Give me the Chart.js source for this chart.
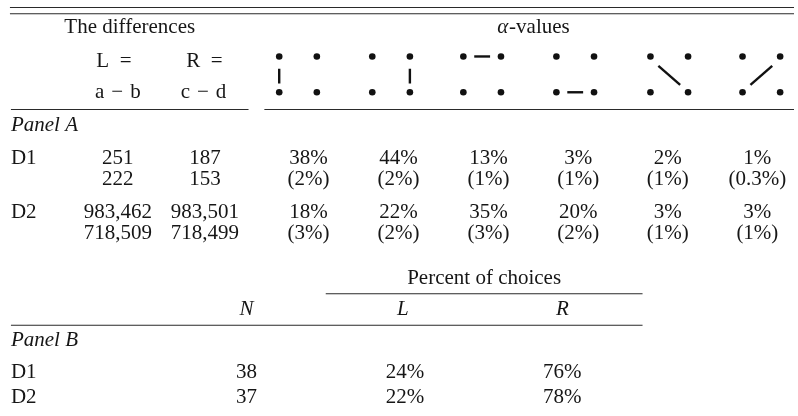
<!DOCTYPE html>
<html><head><meta charset="utf-8">
<script src="https://cdn.jsdelivr.net/npm/chart.js@4/dist/chart.umd.min.js"></script>
<style>html,body{margin:0;padding:0;background:#fff;}canvas{display:block}</style>
</head><body>
<canvas id="c" width="798" height="416"></canvas>
<script>
// ---------------- data ----------------
const rowLabels = ['D1', 'D2'];
const diffL = [['251', '222'], ['983,462', '718,509']];
const diffR = [['187', '153'], ['983,501', '718,499']];
// which pair of the four dots is linked in each alpha-value column
const alphaPatterns = ['left', 'right', 'top', 'bottom', 'diagDown', 'diagUp'];
const alphaMean = [[38, 44, 13, 3, 2, 1], [18, 22, 35, 20, 3, 3]];
const alphaSE = [[2, 2, 1, 1, 1, 0.3], [3, 2, 3, 2, 1, 1]];
const panelBN = [38, 37];
const choiceL = [24, 22];
const choiceR = [76, 78];

// ---------------- layout (scale units = px) ----------------
const W = 798, H = 416;
const FONT = '"Liberation Serif", "Times New Roman", serif';
const FS = 21;
const INK = '#161616';
const RULE = '#2a2a2a';
const X = {
  label: 7, L: 115, R: 203,
  alpha: [307.5, 398.5, 489.5, 580, 670.5, 761],
  glyph: [297, 391, 483, 577, 672, 765],
  BN: 245, BL: 405, BR: 564
};
const Y = {
  rule1: 3.5, rule2: 10, title: 30, hdr1: 64, hdr2: 96, ruleA: 107.5,
  panelA: 129, rows: [[163, 185], [218, 240]],
  pct: 285, rulePct: 295.5, hdrB: 317, ruleB: 327.5, panelB: 349, rowsB: [381, 407]
};
const GLYPH = { hw: 19, top: 53.5, bot: 90 };

// ---------------- datasets ----------------
const datasets = [];
function seg(x1, y1, x2, y2, w, color) {
  datasets.push({
    type: 'line', data: [{x: x1, y: y1}, {x: x2, y: y2}],
    borderColor: color, borderWidth: w, pointRadius: 0, showLine: true,
    fill: false, clip: false, tension: 0, borderCapStyle: 'butt'
  });
}
// rules
seg(6, Y.rule1, W, Y.rule1, 1.1, RULE);
seg(6, Y.rule2, W, Y.rule2, 1.1, RULE);
seg(7, Y.ruleA, 247, Y.ruleA, 1.1, RULE);
seg(263, Y.ruleA, W, Y.ruleA, 1.1, RULE);
seg(325, Y.rulePct, 645, Y.rulePct, 1.1, RULE);
seg(7, Y.ruleB, 645, Y.ruleB, 1.1, RULE);

// glyph dots and links
const dots = [];
alphaPatterns.forEach((p, i) => {
  const cx = X.glyph[i], hw = GLYPH.hw, t = GLYPH.top, b = GLYPH.bot;
  dots.push({x: cx - hw, y: t}, {x: cx + hw, y: t}, {x: cx - hw, y: b}, {x: cx + hw, y: b});
  const lw = 2.4, c = '#111';
  if (p === 'left') seg(cx - hw, t + 12.5, cx - hw, b - 9, lw, c);
  if (p === 'right') seg(cx + hw, t + 12.5, cx + hw, b - 9, lw, c);
  if (p === 'top') seg(cx - 8, t, cx + 8, t, lw, c);
  if (p === 'bottom') seg(cx - 8, b, cx + 8, b, lw, c);
  if (p === 'diagDown') seg(cx - 11, t + 9.5, cx + 11, b - 7.5, lw, c);
  if (p === 'diagUp') seg(cx - 11, b - 7.5, cx + 11, t + 9.5, lw, c);
});
datasets.push({
  type: 'scatter', data: dots, pointRadius: 3.3, pointBackgroundColor: '#111',
  pointBorderWidth: 0, borderWidth: 0, clip: false
});

// ---------------- text plugin ----------------
const textPlugin = {
  id: 'tableText',
  afterDatasetsDraw(chart) {
    const ctx = chart.ctx, xs = chart.scales.x, ys = chart.scales.y;
    ctx.save();
    ctx.fillStyle = INK;
    ctx.textBaseline = 'alphabetic';
    function T(str, x, y, align, style) {
      ctx.font = (style || '') + ' ' + FS + 'px ' + FONT;
      ctx.textAlign = align || 'center';
      ctx.fillText(str, xs.getPixelForValue(x), ys.getPixelForValue(y));
    }
    // header
    T('The differences', 127, Y.title);
    // α-values, α italic
    ctx.font = 'italic ' + FS + 'px ' + FONT;
    const wa = ctx.measureText('α').width;
    ctx.font = FS + 'px ' + FONT;
    const wv = ctx.measureText('-values').width;
    const sx = 534 - (wa + wv) / 2;
    T('α', sx, Y.title, 'left', 'italic');
    T('-values', sx + wa + 1, Y.title, 'left');
    T('L\u2002=', 111, Y.hdr1);
    T('a\u2004−\u2004b', X.L, Y.hdr2);
    T('R\u2002=', 202.5, Y.hdr1);
    T('c\u2004−\u2004d', 201.5, Y.hdr2);

    // panel A
    T('Panel A', X.label, Y.panelA, 'left', 'italic');
    rowLabels.forEach((lab, r) => {
      T(lab, X.label, Y.rows[r][0], 'left');
      T(diffL[r][0], X.L, Y.rows[r][0]);
      T(diffL[r][1], X.L, Y.rows[r][1]);
      T(diffR[r][0], X.R, Y.rows[r][0]);
      T(diffR[r][1], X.R, Y.rows[r][1]);
      alphaMean[r].forEach((v, k) => {
        T(v + '%', X.alpha[k], Y.rows[r][0]);
        T('(' + alphaSE[r][k] + '%)', X.alpha[k], Y.rows[r][1]);
      });
    });

    // panel B
    T('Percent of choices', 485, Y.pct);
    T('N', X.BN, Y.hdrB, 'center', 'italic');
    T('L', X.BL - 2, Y.hdrB, 'center', 'italic');
    T('R', X.BR, Y.hdrB, 'center', 'italic');
    T('Panel B', X.label, Y.panelB, 'left', 'italic');
    rowLabels.forEach((lab, r) => {
      T(lab, X.label, Y.rowsB[r], 'left');
      T(String(panelBN[r]), X.BN, Y.rowsB[r]);
      T(choiceL[r] + '%', X.BL, Y.rowsB[r]);
      T(choiceR[r] + '%', X.BR, Y.rowsB[r]);
    });
    ctx.restore();
  }
};

new Chart(document.getElementById('c'), {
  data: { datasets },
  options: {
    responsive: false, animation: false, devicePixelRatio: 1,
    layout: { padding: 0 },
    plugins: { legend: { display: false }, tooltip: { enabled: false } },
    events: [],
    scales: {
      x: { type: 'linear', min: 0, max: W, display: false },
      y: { type: 'linear', min: 0, max: H, reverse: true, display: false }
    }
  },
  plugins: [textPlugin]
});
</script>
</body></html>
